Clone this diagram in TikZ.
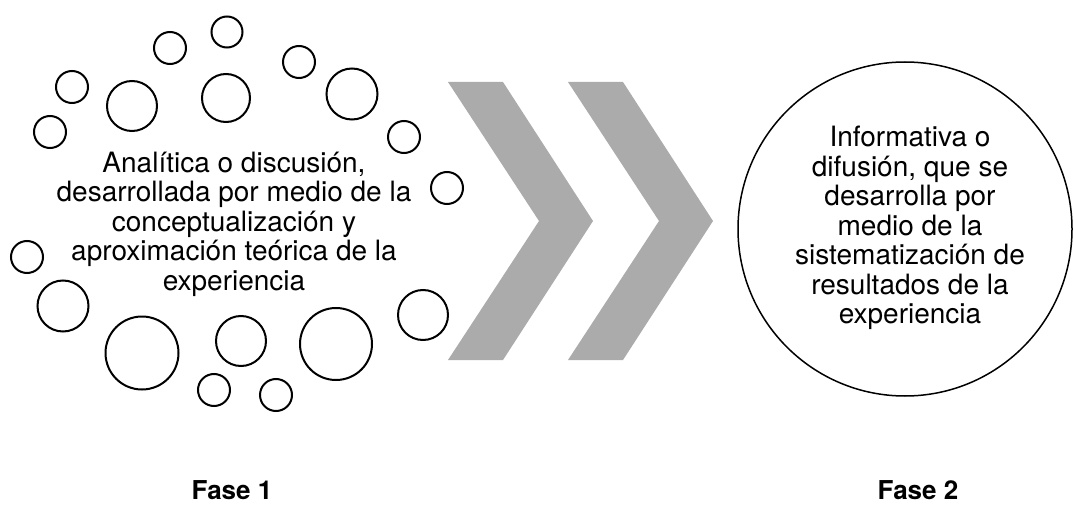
\documentclass[tikz,border=0pt]{standalone}
\usepackage{fontspec}
\setmainfont{TeX Gyre Heros}
\usepackage{tikz}
\usetikzlibrary{positioning}
\definecolor{chevgray}{HTML}{ABABAB}
\definecolor{inkblack}{HTML}{000000}
\tikzset{
  bubble/.style    = {circle, draw=inkblack, line width=2pt, inner sep=0pt},
  phasecirc/.style = {circle, draw=inkblack, line width=1.5pt, inner sep=0pt,
                      minimum size=334pt},
  phasetext/.style = {align=center, inner sep=0pt,
                      font=\fontsize{28}{29.5}\selectfont},
  phaselabel/.style= {anchor=base, inner sep=0pt,
                      font=\fontsize{26}{28}\selectfont\bfseries},
  chevron/.style   = {fill=chevgray},
}

\begin{document}
\begin{tikzpicture}[x=1pt, y=-1pt]
  \useasboundingbox (0,0) rectangle (1073,505);
  \foreach \nm/\x/\y/\d in {c1/227/32/31, c2/170/48/32, c3/299/62/32,
      c4/72/87/32, c5/132/106/50, c6/226/98/48, c7/352/94/51,
      c8/50/132/32, c9/404/137/32, c10/447/188/32, c11/27/257/32,
      c12/63/306/51, c13/142/353/73, c14/241/341/50, c15/336/344/72,
      c16/423/315/50, c17/214/390/32, c18/276/395/32}
    \node[bubble, minimum size=\d*1pt] (\nm) at (\x,\y) {};
  \node[phasetext] (analitica) at (234,224)
    {Analítica o discusión,\\desarrollada por medio de la\\conceptualización y\\aproximación teórica de la\\experiencia};
  \foreach \dx in {0,120}
    \fill[chevron] (448+\dx,82) -- (503+\dx,82) -- (593+\dx,221)
      -- (503+\dx,360) -- (448+\dx,360) -- (539+\dx,221) -- cycle;
  \node[phasecirc] (fase2circ) at (905,229) {};
  \node[phasetext] (informativa) at (910,228)
    {Informativa o\\difusión, que se\\desarrolla por\\medio de la\\sistematización de\\resultados de la\\experiencia};
  \node[phaselabel] (fase1) at (232,499) {Fase 1};
  \node[phaselabel] (fase2) at (918,499) {Fase 2};
\end{tikzpicture}
\end{document}
